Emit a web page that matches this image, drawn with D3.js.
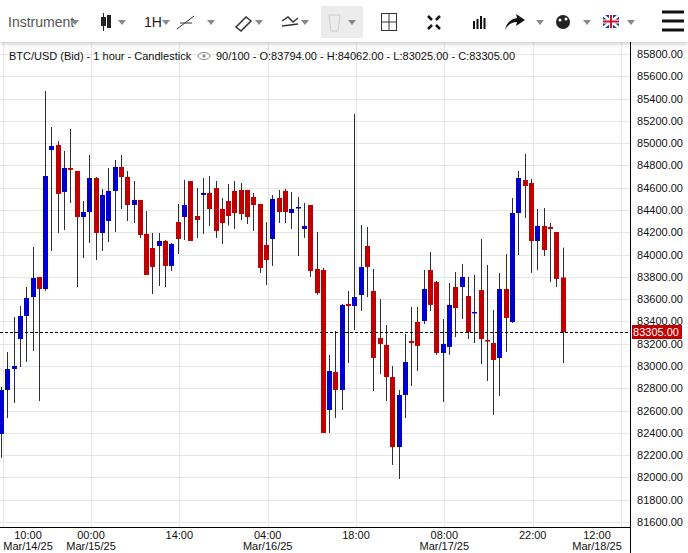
<!DOCTYPE html>
<html><head><meta charset="utf-8">
<script src="https://cdn.jsdelivr.net/npm/d3@7"></script>
<style>
body{margin:0;background:#fff;font-family:"Liberation Sans",Arial,sans-serif;}
svg{display:block;}
</style></head>
<body><svg id="chart" width="688" height="553"></svg>
<script>
// OHLC, one candle per hour
var opens  = [82390,82785,82973,83242,83449,83619,83799,83691,84938,84983,84562,84777,84750,84337,84382,84687,84194,84301,84571,84786,84696,84445,84490,84185,84059,84077,84122,83898,84292,84337,84660,84346,84535,84553,84597,84409,84481,84571,84580,84580,84517,84454,84086,84140,84508,84571,84373,84418,84230,84445,83871,83862,82605,82946,82785,83557,83539,83637,84077,83673,83251,83189,82901,82273,82740,83224,83395,83404,83862,83754,83117,83171,83709,83709,83628,83480,83682,83233,83206,83072,83691,83395,84373,84669,84642,84122,84257,84248,84203,83794];
var highs  = [82812,83126,83440,83539,83709,84068,83799,85468,85145,85019,84930,85127,84750,84481,84894,84696,84589,84777,84849,84894,84750,84660,84490,84391,84194,84194,84131,84104,84454,84669,84660,84597,84687,84705,84660,84508,84633,84660,84642,84580,84553,84454,84292,84535,84580,84589,84562,84517,84463,84445,84203,83880,83099,83314,83557,83673,85262,84265,84247,83871,83601,83368,83000,82785,83287,83530,83530,83862,84023,83763,83422,83745,83844,83916,83799,83817,84140,83907,83503,83835,84005,84508,84750,84903,84678,84409,84418,84283,84203,84062];
var lows   = [82175,82533,82668,82991,83036,83135,82686,83673,84032,84194,84221,84463,83709,83969,84104,83951,84032,84113,84203,84409,84301,84283,84149,83817,83646,83718,83709,83853,84005,84131,84122,84149,84185,84257,84149,84095,84260,84230,84310,84274,84212,83835,83727,83898,84283,84283,84230,83987,84149,83799,83640,82399,82399,82533,82605,83027,83323,83494,83619,82776,82928,82686,82112,81986,82533,82821,82955,83377,83494,83100,82677,83100,83260,83422,83242,83206,83018,82865,82560,82731,83126,83386,83996,84328,83835,83862,83987,83754,83709,83025];
var closes = [82785,82973,83000,83449,83610,83790,83691,84705,84974,84544,84777,84760,84337,84382,84687,84194,84535,84571,84786,84696,84445,84490,84176,83817,83889,84122,83898,84095,84140,84445,84122,84310,84553,84409,84212,84283,84346,84373,84364,84337,84445,83880,83951,84499,84382,84382,84409,84427,84257,83853,83655,82399,82955,82785,83548,83539,83619,83889,83889,83072,83198,82901,82273,82740,83036,83206,83180,83691,83548,83117,83198,83548,83520,83799,83305,83485,83242,83220,83054,83691,83431,84373,84687,84615,84122,84257,84041,84230,83781,83305];
var priceTicks = d3.range(81600, 85801, 200);
var timeTicks = [
  {h:-14, t:"10:00", d:"Mar/14/25"}, {h:0, t:"00:00", d:"Mar/15/25"},
  {h:14, t:"14:00", d:""}, {h:28, t:"04:00", d:"Mar/16/25"},
  {h:42, t:"18:00", d:""}, {h:56, t:"08:00", d:"Mar/17/25"},
  {h:70, t:"22:00", d:""}, {h:84, t:"12:00", d:"Mar/18/25"}
];
var HOUR0 = 14.26; // candle index of Mar/15 00:00

var svg = d3.select('#chart');
var plotR = 630, plotB = 527;
var x = d3.scaleLinear().domain([0, 89]).range([1, 562.6]);
var y = d3.scaleLinear().domain([81600, 85800]).range([522, 54]);

// grid
svg.append('g').selectAll('line').data(priceTicks).enter().append('line')
  .attr('x1', 0).attr('x2', plotR).attr('y1', function(d){return Math.round(y(d))+0.5;})
  .attr('y2', function(d){return Math.round(y(d))+0.5;}).attr('stroke', '#e6e6e6');
svg.append('g').selectAll('line').data(timeTicks).enter().append('line')
  .attr('x1', function(d){return Math.round(x(d.h+HOUR0))+0.5;})
  .attr('x2', function(d){return Math.round(x(d.h+HOUR0))+0.5;})
  .attr('y1', 42).attr('y2', plotB).attr('stroke', '#e6e6e6');

// candles
var candles = d3.range(opens.length).map(function(i){
  return {i:i, o:opens[i], h:highs[i], l:lows[i], c:closes[i]};
});
var g = svg.append('g').selectAll('g').data(candles).enter().append('g');
g.append('line')
  .attr('x1', function(d){return Math.round(x(d.i))+0.5;})
  .attr('x2', function(d){return Math.round(x(d.i))+0.5;})
  .attr('y1', function(d){return y(d.h);}).attr('y2', function(d){return y(d.l);})
  .attr('stroke', '#2b3034').attr('stroke-width', 1);
g.append('rect')
  .attr('x', function(d){return Math.round(x(d.i))-2;})
  .attr('width', 5)
  .attr('y', function(d){return y(Math.max(d.o, d.c));})
  .attr('height', function(d){return Math.max(1.5, Math.abs(y(d.o)-y(d.c)));})
  .attr('fill', function(d){return d.c >= d.o ? '#0000cc' : '#c00000';});

// last price line
var last = closes[closes.length-1];
svg.append('line').attr('x1', 0).attr('x2', plotR)
  .attr('y1', Math.round(y(last))+0.5).attr('y2', Math.round(y(last))+0.5)
  .attr('stroke', '#000').attr('stroke-dasharray', '3,2');

// y axis
svg.append('line').attr('x1', plotR+0.5).attr('x2', plotR+0.5).attr('y1', 42).attr('y2', 553)
  .attr('stroke', '#000');
svg.append('g').selectAll('text').data(priceTicks).enter().append('text')
  .attr('x', 683).attr('y', function(d){return y(d)+4;}).attr('text-anchor', 'end')
  .attr('font-size', 11).attr('fill', '#111').text(function(d){return d.toFixed(2);});
svg.append('rect').attr('x', 632).attr('y', y(last)-7).attr('width', 50).attr('height', 14)
  .attr('fill', '#c00000');
svg.append('text').attr('x', 679).attr('y', y(last)+4).attr('text-anchor', 'end')
  .attr('font-size', 11).attr('fill', '#fff').text(last.toFixed(2));

// x axis
svg.append('line').attr('x1', 0).attr('x2', plotR).attr('y1', plotB+0.5).attr('y2', plotB+0.5)
  .attr('stroke', '#000');
var xl = svg.append('g').selectAll('g').data(timeTicks).enter().append('g')
  .attr('transform', function(d){
    var cx = Math.max(28, Math.min(597, x(d.h+HOUR0)));
    return 'translate(' + cx + ',0)';
  });
xl.append('text').attr('y', 539).attr('text-anchor', 'middle').attr('font-size', 11)
  .attr('fill', '#111').text(function(d){return d.t;});
xl.append('text').attr('y', 550).attr('text-anchor', 'middle').attr('font-size', 11)
  .attr('fill', '#111').text(function(d){return d.d;});

// header
svg.append('text').attr('x', 9).attr('y', 60).attr('font-size', 11).attr('fill', '#111')
  .text('BTC/USD (Bid) - 1 hour - Candlestick');
svg.append('ellipse').attr('cx', 204).attr('cy', 56).attr('rx', 6).attr('ry', 3.5)
  .attr('fill', 'none').attr('stroke', '#888');
svg.append('circle').attr('cx', 204).attr('cy', 56).attr('r', 1.6).attr('fill', '#888');
svg.append('text').attr('x', 216).attr('y', 60).attr('font-size', 11).attr('fill', '#111')
  .text('90/100 - O:' + opens[89].toFixed(2) + ' - H:' + highs[89].toFixed(2) +
        ' - L:' + lows[89].toFixed(2) + ' - C:' + closes[89].toFixed(2));

// toolbar
var defs = svg.append('defs');
var f = defs.append('filter').attr('id', 'sh').attr('y', '-20%').attr('height', '150%');
f.append('feDropShadow').attr('dx', 0).attr('dy', 2).attr('stdDeviation', 2).attr('flood-opacity', 0.2);
svg.append('rect').attr('x', 0).attr('y', 0).attr('width', 688).attr('height', 42)
  .attr('fill', '#fff').attr('filter', 'url(#sh)');
svg.append('rect').attr('x', 321).attr('y', 6).attr('width', 42).attr('height', 32).attr('fill', '#ececec');
var tb = svg.append('g').attr('font-size', 14).attr('fill', '#444');
tb.append('text').attr('x', 8).attr('y', 27).attr('fill', '#555').text('Instrument');
function caret(cx){ tb.append('path').attr('d', 'M' + (cx-4) + ',20L' + (cx+4) + ',20L' + cx + ',25Z').attr('fill', '#888'); }
[75, 122, 166, 211, 259, 305, 352, 540, 587, 631].forEach(caret);
// candle icon
tb.append('line').attr('x1', 103.5).attr('x2', 103.5).attr('y1', 13).attr('y2', 31).attr('stroke', '#222');
tb.append('rect').attr('x', 101).attr('y', 17).attr('width', 5).attr('height', 9).attr('fill', '#222');
tb.append('rect').attr('x', 107).attr('y', 15).attr('width', 4).attr('height', 13).attr('fill', '#222');
tb.append('text').attr('x', 144).attr('y', 27).attr('fill', '#222').text('1H');
tb.append('path').attr('d', 'M177,29L194,16M180,23L192,23').attr('stroke', '#333').attr('fill', 'none');
tb.append('path').attr('d', 'M236,27L246,17L251,21L241,31Z').attr('stroke', '#333').attr('fill', 'none').attr('stroke-width', 1.5);
tb.append('path').attr('d', 'M282,21L288,17L293,22L298,18M282,26L298,24').attr('stroke', '#333').attr('fill', 'none').attr('stroke-width', 1.5);
tb.append('path').attr('d', 'M329,15L340,15L338,31L331,31Z').attr('stroke', '#ccc').attr('fill', 'none');
tb.append('rect').attr('x', 381.5).attr('y', 13.5).attr('width', 15).attr('height', 17).attr('fill', 'none').attr('stroke', '#333');
tb.append('path').attr('d', 'M389,14V30M382,22H396').attr('stroke', '#333');
tb.append('path').attr('d', 'M428,16l4,4M440,16l-4,4M428,29l4,-4M440,29l-4,-4').attr('stroke', '#111').attr('stroke-width', 2.5);
[0,1,2,3].forEach(function(k){
  var hgt = [8,10,13,11][k];
  tb.append('rect').attr('x', 473 + k*3.5).attr('y', 29-hgt).attr('width', 2).attr('height', hgt).attr('fill', '#111');
});
tb.append('path').attr('d', 'M505,30Q507,20 517,18L516,14L525,20L516,26L517,22Q509,22 505,30Z').attr('fill', '#111');
tb.append('circle').attr('cx', 563).attr('cy', 22).attr('r', 7).attr('fill', '#222');
tb.append('circle').attr('cx', 566).attr('cy', 19).attr('r', 1.5).attr('fill', '#fff');
tb.append('circle').attr('cx', 560).attr('cy', 20).attr('r', 1.5).attr('fill', '#fff');
tb.append('rect').attr('x', 603).attr('y', 15).attr('width', 16).attr('height', 13).attr('fill', '#1c3f94');
tb.append('path').attr('d', 'M603,15L619,28M619,15L603,28').attr('stroke', '#fff').attr('stroke-width', 2.5);
tb.append('path').attr('d', 'M611,15V28M603,21.5H619').attr('stroke', '#fff').attr('stroke-width', 4);
tb.append('path').attr('d', 'M611,15V28M603,21.5H619').attr('stroke', '#d0142c').attr('stroke-width', 2);
tb.append('path').attr('d', 'M662,12H684M662,21H684M662,30H684').attr('stroke', '#111').attr('stroke-width', 3);
</script></body></html>
